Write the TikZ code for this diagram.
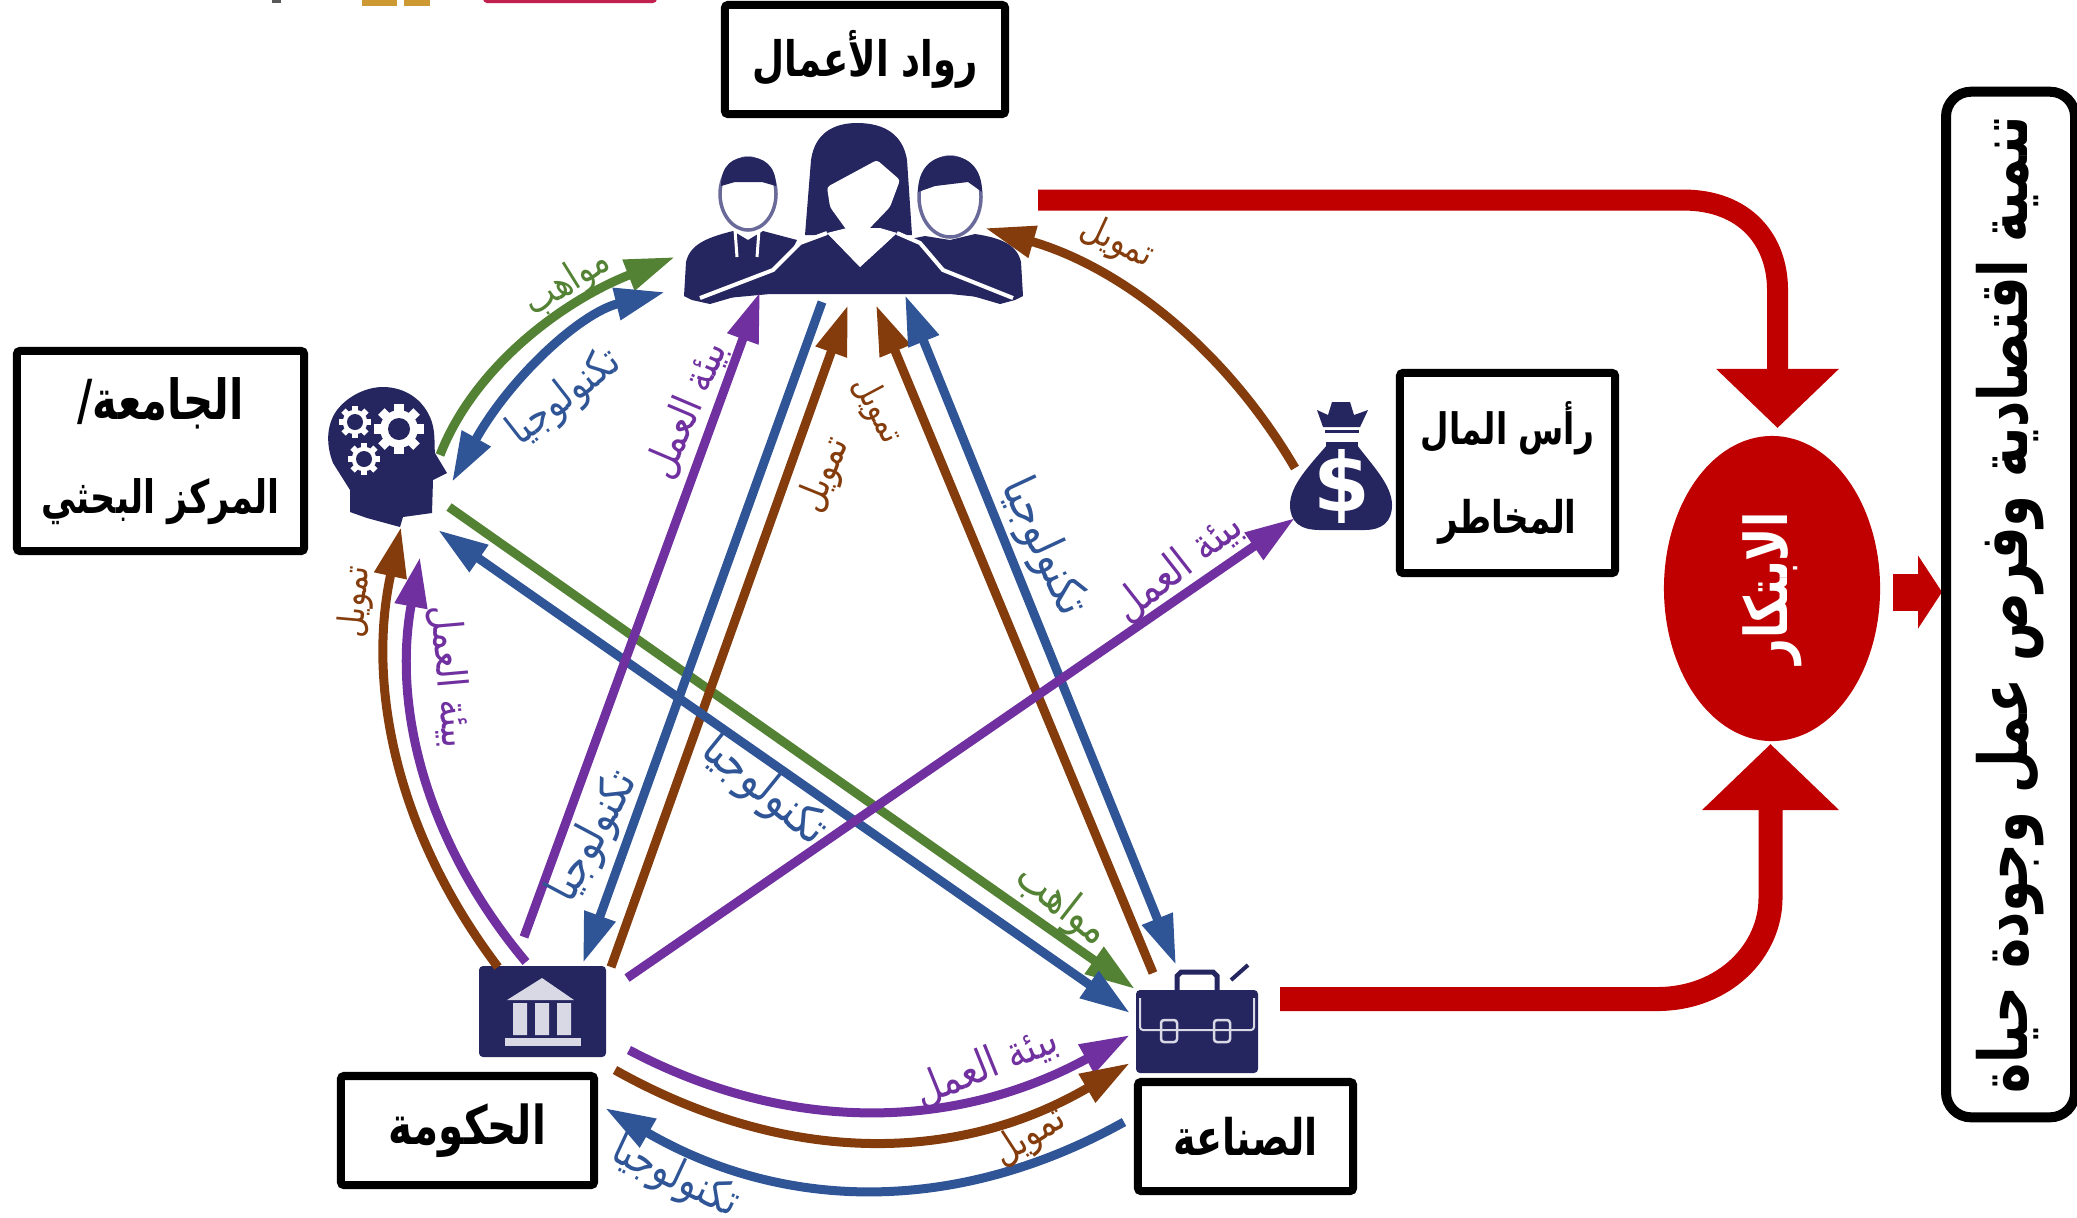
\documentclass[tikz,border=0pt]{standalone}
\usepackage{fontspec}
\usetikzlibrary{arrows.meta,shapes.geometric}
\TeXXeTstate=1
\newfontfamily\arabicfont[Script=Arabic]{DejaVu Sans}
\newcommand\arlab[2]{\resizebox{#1cm}{!}{\scalebox{1}[1.2]{\arabicfont #2}}}
\newcommand\arbold[2]{\resizebox{#1cm}{!}{\scalebox{1}[1.32]{\arabicfont\bfseries #2}}}
\newcommand\gearicon[4]{%
  \fill[white] (#1,#2) circle[radius=#3*0.82];
  \foreach \a in {0,45,...,315}{\fill[white,shift={(#1,#2)},rotate=\a] (#3*-0.2,0) rectangle (#3*0.2,#3*1.08);}
  \fill[navy] (#1,#2) circle[radius=#4];}
\definecolor{navy}{HTML}{25255F}
\definecolor{cblue}{HTML}{2F5597}
\definecolor{cgreen}{HTML}{548235}
\definecolor{cpurple}{HTML}{7030A0}
\definecolor{cbrown}{HTML}{843C0C}
\definecolor{cred}{HTML}{C00000}
\definecolor{crimson}{HTML}{C2204F}
\definecolor{cgold}{HTML}{CC9933}
\definecolor{headline}{HTML}{6A6A9A}
\definecolor{palebld}{HTML}{D9D9E6}
\tikzset{
  x=0.01cm,y=-0.01cm,
  hd/.tip={Triangle[length=0.5cm,width=0.31cm]},
  flowone/.style={line width=0.09cm,-hd},
  flowtwo/.style={line width=0.09cm,hd-hd},
  labelbox/.style={draw=black,fill=white,line width=0.08cm,rounded corners=0.03cm,inner sep=0pt,outer sep=0pt,align=center},
  iconbox/.style={inner sep=0pt,outer sep=0pt},
  flowtext/.style={inner sep=0pt,outer sep=0pt},
}
\begin{document}
\begin{tikzpicture}
\useasboundingbox (0,0) rectangle (2077,1217);
% cropped marks at the top edge
\fill[gray!70!black] (272,-3) rectangle (281,3);
\fill[cgold] (362,-5) rectangle (397,6);
\fill[cgold] (404,-5) rectangle (430,6);
\fill[crimson,rounded corners=0.04cm] (483,-8) rectangle (657,3);

% icon anchors
\node[iconbox,minimum width=3.4cm,minimum height=1.8cm] (ent) at (853,213) {};
\node[iconbox,minimum width=1.2cm,minimum height=1.4cm] (uniicon) at (387,457) {};
\node[iconbox,minimum width=1.27cm,minimum height=0.91cm] (govicon) at (542,1011) {};
\node[iconbox,minimum width=1.22cm,minimum height=1.08cm] (indicon) at (1197,1019) {};
\node[iconbox,minimum width=1.02cm,minimum height=1.28cm] (vcicon) at (1341,466) {};

% people icon
\fill[navy] (684,296) -- (686,262) .. controls (690,245) and (705,238) .. (733,231) -- (748,240) -- (763,231) -- (797,240) -- (775,285) -- (710,304) -- (692,300) -- cycle;
\fill[navy] (1023,296) -- (1021,262) .. controls (1017,245) and (1002,238) .. (975,234) -- (950,240) -- (925,236) -- (905,240) -- (935,285) -- (1000,304) -- (1015,300) -- cycle;
\draw[headline,fill=white,line width=0.035cm] (748,194) ellipse[x radius=28,y radius=36];
\fill[navy] (721,186) .. controls (721,165) and (733,157) .. (748,157) .. controls (763,157) and (776,165) .. (776,186) -- (762,182) -- (735,182) -- cycle;
\draw[headline,fill=white,line width=0.035cm] (950,197) ellipse[x radius=31,y radius=40];
\fill[navy] (918,192) .. controls (918,168) and (932,156) .. (950,156) .. controls (968,156) and (982,168) .. (982,192) -- (968,182) -- (935,186) -- cycle;
\draw[white,line width=0.03cm] (735,230) -- (737,257) (759,230) -- (757,257);
\fill[navy] (805,235) -- (811,160) .. controls (815,132) and (835,123) .. (857,123) .. controls (885,123) and (903,135) .. (907,160) -- (912,235) -- cycle;
\fill[white,rounded corners=0.03cm] (827,187) -- (877,160) -- (900,180) -- (890,207) -- (866,232) -- (848,232) -- (830,207) -- cycle;
\fill[navy] (705,300) -- (773,270) -- (800,243) -- (827,233) -- (860,267) -- (897,233) -- (920,243) -- (943,270) -- (1008,300) -- (950,294) -- (860,294) -- (770,294) -- cycle;
\fill[white] (827,233) -- (847,228) -- (880,228) -- (897,233) -- (860,267) -- cycle;
\draw[white,line width=0.04cm] (700,298) -- (773,270) -- (800,243) -- (827,233);
\draw[white,line width=0.04cm] (897,233) -- (920,243) -- (943,270) -- (1013,298);

% head with gears
\fill[navy] (350,512) -- (350,490) -- (333,463) .. controls (326,445) and (326,425) .. (337,410) .. controls (347,397) and (365,387) .. (383,387) .. controls (400,387) and (420,395) .. (430,417) .. controls (436,430) and (434,445) .. (435,453) -- (447,473) -- (433,480) -- (432,513) -- (403,517) -- (400,527) -- (367,518) -- cycle;
\gearicon{355}{422}{15}{8}
\gearicon{399}{429}{23}{11}
\gearicon{364}{459}{15}{8}

% money bag
\fill[navy] (1317,410) -- (1328,415) -- (1332,402) -- (1350,402) -- (1354,415) -- (1368,410) -- (1360,427) -- (1323,427) -- cycle;
\fill[navy] (1325,430) rectangle (1359,433);
\fill[navy] (1326,442) rectangle (1358,447);
\fill[navy] (1327,445) .. controls (1310,465) and (1290,485) .. (1290,505) .. controls (1290,522) and (1300,530) .. (1320,530) -- (1364,530) .. controls (1382,530) and (1392,522) .. (1392,505) .. controls (1392,485) and (1372,465) .. (1357,445) -- cycle;
\node[iconbox,text=white] (dollar) at (1342,486) {\resizebox{!}{0.62cm}{\arabicfont\bfseries \$}};

% government icon
\fill[navy,rounded corners=0.04cm] (479,966) rectangle (606,1057);
\fill[palebld] (542,978) -- (574,1000) -- (507,1000) -- cycle;
\fill[palebld] (513,1003) rectangle (527,1035) (535,1003) rectangle (549,1035) (557,1003) rectangle (571,1035);
\fill[palebld] (505,1038) rectangle (581,1046);

% briefcase icon
\draw[navy,line width=0.05cm] (1177,990) -- (1177,976) -- (1181,972) -- (1213,972) -- (1217,976) -- (1217,990);
\draw[navy,line width=0.04cm] (1248,965) -- (1231,980);
\fill[navy,rounded corners=0.04cm] (1136,990) rectangle (1258,1073);
\draw[palebld,line width=0.02cm,rounded corners=0.03cm] (1140,998) -- (1140,1030) -- (1254,1030) -- (1254,998);
\draw[palebld,line width=0.025cm,rounded corners=0.03cm] (1161,1020) rectangle (1177,1042);
\draw[palebld,line width=0.025cm,rounded corners=0.03cm] (1214,1020) rectangle (1230,1042);

% connector ends
\coordinate (uniA) at (440,455);  \coordinate (entA) at (675,257);
\coordinate (uniB) at (452,482);  \coordinate (entB) at (665,292);
\coordinate (uniC) at (449,507);  \coordinate (indC) at (1135,989);
\coordinate (uniD) at (438,530);  \coordinate (indD) at (1130,1013);
\coordinate (uniE) at (401,527);  \coordinate (govE) at (498,967);
\coordinate (uniF) at (420,557);  \coordinate (govF) at (526,962);
\coordinate (entG) at (760,292);  \coordinate (govG) at (524,937);
\coordinate (entH) at (822,302);  \coordinate (govH) at (583,963);
\coordinate (entI) at (848,305);  \coordinate (govI) at (611,967);
\coordinate (entJ) at (876,305);  \coordinate (indJ) at (1153,973);
\coordinate (entK) at (905,295);  \coordinate (indK) at (1176,965);
\coordinate (entL) at (985,228);  \coordinate (vcL) at (1295,468);
\coordinate (vcM) at (1295,518);  \coordinate (govM) at (627,978);
\coordinate (govN) at (629,1050); \coordinate (indN) at (1130,1035);
\coordinate (govO) at (615,1070); \coordinate (indO) at (1130,1063);
\coordinate (govP) at (605,1108); \coordinate (indP) at (1124,1122);
\coordinate (redAs) at (1038,200); \coordinate (redAe) at (1777.5,428);
\coordinate (redBs) at (1280,999); \coordinate (redBe) at (1770.5,744);
\coordinate (smallS) at (1893,592); \coordinate (smallE) at (1942,592);

% connectors
\draw[flowone,cgreen] (uniA) .. controls (475,365) and (565,300) .. (entA);
\draw[flowtwo,cblue] (uniB) .. controls (510,378) and (580,313) .. (entB);
\draw[flowone,cgreen] (uniC) -- (indC);
\draw[flowone,cbrown] (govI) -- (entI);
\draw[flowone,cbrown] (indJ) -- (entJ);
\draw[flowtwo,cblue] (uniD) -- (indD);
\draw[flowone,cblue] (entH) -- (govH);
\draw[flowtwo,cblue] (entK) -- (indK);
\draw[flowone,cbrown] (govE) .. controls (398,835) and (366,688) .. (uniE);
\draw[flowone,cpurple] (govF) .. controls (427,844) and (392,709) .. (uniF);
\draw[flowone,cpurple] (govG) -- (entG);
\draw[flowone,cbrown] (vcL) .. controls (1224,347) and (1120,267) .. (entL);
\draw[flowone,cpurple] (govM) -- (vcM);
\draw[flowone,cpurple] (govN) .. controls (790,1135) and (957,1130) .. (indN);
\draw[flowone,cbrown] (govO) .. controls (786,1166) and (958,1164) .. (indO);
\draw[flowone,cblue] (indP) .. controls (955,1216) and (782,1211) .. (govP);

% red arrows
\draw[cred,line width=0.21cm,-{Triangle[length=0.59cm,width=1.19cm]}] (redAs) -- (1683,200) .. controls (1745,200) and (1777.5,240) .. (1777.5,290) -- (redAe);
\draw[cred,line width=0.24cm,-{Triangle[length=0.66cm,width=1.33cm]}] (redBs) -- (1657,999) .. controls (1725,999) and (1770.5,950) .. (1770.5,898) -- (redBe);
\draw[cred,line width=0.37cm,-{Triangle[length=0.24cm,width=0.72cm]}] (smallS) -- (smallE);

% boxes
\node[labelbox,minimum width=2.80cm,minimum height=1.09cm] (entbox) at (865,59.5) {\arbold{2.25}{\beginR رواد الأعمال\endR}};
\node[labelbox,minimum width=2.87cm,minimum height=2.00cm] (uni) at (160.5,451) {\arbold{1.66}{\beginR الجامعة/\endR}\\[0.46cm]\arbold{2.38}{\beginR المركز البحثي\endR}};
\node[labelbox,minimum width=2.53cm,minimum height=1.09cm] (gov) at (467.5,1130.5) {\arbold{1.57}{\beginR الحكومة\endR}};
\node[labelbox,minimum width=2.15cm,minimum height=1.09cm] (ind) at (1245.5,1136.5) {\arbold{1.44}{\beginR الصناعة\endR}};
\node[labelbox,minimum width=2.15cm,minimum height=2.00cm] (vc) at (1507.5,473) {\arbold{1.73}{\beginR رأس المال\endR}\\[0.40cm]\arbold{1.38}{\beginR المخاطر\endR}};
\node[ellipse,fill=cred,text=white,inner sep=0pt,minimum width=3.05cm,minimum height=2.16cm,rotate=90] (inno) at (1772,588.5) {\arbold{1.52}{\beginR الابتكار\endR}};
\node[labelbox,line width=0.1cm,rounded corners=0.25cm,minimum width=10.25cm,minimum height=1.29cm,rotate=90] (outcome) at (2010.5,604.5) {\arbold{9.77}{\beginR تنمية اقتصادية وفرص عمل وجودة حياة\endR}};

% connector labels
\node[flowtext,text=cgreen,rotate=32] (t1) at (568,283) {\arlab{0.93}{\beginR مواهب\endR}};
\node[flowtext,text=cblue,rotate=38] (t2) at (565,398) {\arlab{1.30}{\beginR تكنولوجيا\endR}};
\node[flowtext,text=cpurple,rotate=67] (t3) at (687,410) {\arlab{1.45}{\beginR بيئة العمل\endR}};
\node[flowtext,text=cbrown,rotate=68] (t4) at (825,475) {\arlab{0.77}{\beginR تمويل\endR}};
\node[flowtext,text=cbrown,rotate=-62] (t5) at (877,410) {\arlab{0.70}{\beginR تمويل\endR}};
\node[flowtext,text=cbrown,rotate=-25] (t6) at (1117,243) {\arlab{0.75}{\beginR تمويل\endR}};
\node[flowtext,text=cblue,rotate=-65] (t7) at (1043,547) {\arlab{1.45}{\beginR تكنولوجيا\endR}};
\node[flowtext,text=cpurple,rotate=38] (t8) at (1178,567) {\arlab{1.50}{\beginR بيئة العمل\endR}};
\node[flowtext,text=cbrown,rotate=85] (t9) at (356,602) {\arlab{0.72}{\beginR تمويل\endR}};
\node[flowtext,text=cpurple,rotate=-85] (t10) at (450,677) {\arlab{1.43}{\beginR بيئة العمل\endR}};
\node[flowtext,text=cblue,rotate=62] (t11) at (594,837) {\arlab{1.40}{\beginR تكنولوجيا\endR}};
\node[flowtext,text=cblue,rotate=-39] (t12) at (764,791) {\arlab{1.47}{\beginR تكنولوجيا\endR}};
\node[flowtext,text=cgreen,rotate=-38] (t13) at (1062,905) {\arlab{1.05}{\beginR مواهب\endR}};
\node[flowtext,text=cpurple,rotate=22] (t14) at (986,1066) {\arlab{1.50}{\beginR بيئة العمل\endR}};
\node[flowtext,text=cbrown,rotate=33] (t15) at (1030,1137) {\arlab{0.78}{\beginR تمويل\endR}};
\node[flowtext,text=cblue,rotate=-25] (t16) at (675,1178) {\arlab{1.35}{\beginR تكنولوجيا\endR}};
\end{tikzpicture}
\end{document}
